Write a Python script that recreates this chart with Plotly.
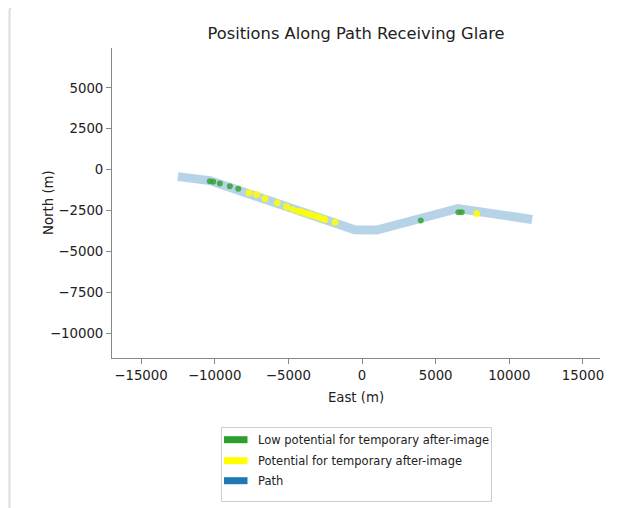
import plotly.graph_objects as go

# Path vertices (m)
path_east = [-12500, -10330, -500, 1000, 6520, 11550]
path_north = [-430, -670, -3680, -3700, -2380, -3050]

# Glare positions
green_east = [-10330, -10100, -9650, -8970, -8400, 3990, 6540, 6770]
green_north = [-713, -750, -854, -1018, -1177, -3110, -2604, -2604]

yellow_east = [-7660, -7150, -6590, -5750, -5120, -4710, -4330, -4080, -3800, -3530,
               -3260, -2990, -2720, -2510, -1830, 7790]
yellow_north = [-1421, -1524, -1768, -2030, -2274, -2439, -2543, -2591, -2665, -2744,
                -2823, -2902, -2988, -3049, -3213, -2683]

x_tickvals = [-15000, -10000, -5000, 0, 5000, 10000, 15000]
x_ticktext = ["\u221215000", "\u221210000", "\u22125000", "0", "5000", "10000", "15000"]
y_tickvals = [-10000, -7500, -5000, -2500, 0, 2500, 5000]
y_ticktext = ["\u221210000", "\u22127500", "\u22125000", "\u22122500", "0", "2500", "5000"]

legend_labels = ["Low potential for temporary after-image",
                 "Potential for temporary after-image",
                 "Path"]
legend_colors = ["#2ca02c", "#ffff00", "#1f77b4"]

x_range = [-16970, 16155]
y_range = [-11524, 7439]

FONT = "DejaVu Sans"
fig = go.Figure()

fig.add_trace(go.Scatter(x=path_east, y=path_north, mode="lines",
                         line=dict(color="rgba(31,119,180,0.32)", width=9),
                         showlegend=False, hoverinfo="skip"))
fig.add_trace(go.Scatter(x=green_east, y=green_north, mode="markers",
                         marker=dict(color="#2ca02c", size=6, opacity=0.8, line=dict(width=0)),
                         showlegend=False))
fig.add_trace(go.Scatter(x=yellow_east, y=yellow_north, mode="markers",
                         marker=dict(color="#ffff00", size=7, opacity=0.85, line=dict(width=0)),
                         showlegend=False))

# screen px -> paper coords (page has an 8px body margin)
def px(v):
    return (v - 112) / 488
def py(v):
    return (358 - v) / 310

# card border
fig.add_shape(type="path", xref="paper", yref="paper",
              path=(f"M {px(9.5)} {py(520)} L {px(9.5)} {py(12)} "
                    f"Q {px(9.5)} {py(5)} {px(16.5)} {py(5)} "
                    f"L {px(613)} {py(5)} Q {px(620)} {py(5)} {px(620)} {py(12)}"),
              line=dict(color="#dddddd", width=2))

# manual legend (matplotlib style)
fig.add_shape(type="rect", xref="paper", yref="paper",
              x0=px(221.5), x1=px(491.5), y0=py(501.5), y1=py(427.5),
              line=dict(color="#cccccc", width=1), fillcolor="white")
row_y = [439.7, 460.7, 480.7]
for lab, col, ry in zip(legend_labels, legend_colors, row_y):
    fig.add_shape(type="rect", xref="paper", yref="paper",
                  x0=px(224), x1=px(247.5), y0=py(ry + 3.5), y1=py(ry - 3.5),
                  line=dict(width=0), fillcolor=col)
    fig.add_annotation(text=lab, xref="paper", yref="paper", x=px(256), y=py(ry),
                       xanchor="left", yanchor="middle", showarrow=False,
                       font=dict(size=11.5, color="#222222", family=FONT))

# y-axis title
fig.add_annotation(text="North (m)", xref="paper", yref="paper", x=px(48), y=py(203),
                   xanchor="center", yanchor="middle", textangle=-90, showarrow=False,
                   font=dict(size=13.3, color="#222222", family=FONT))

fig.update_layout(
    width=613, height=500,
    margin=dict(l=104, r=21, t=40, b=150),
    paper_bgcolor="white", plot_bgcolor="white",
    font=dict(family=FONT, size=13, color="#222222"),
    title=dict(text="Positions Along Path Receiving Glare", x=(356 - 8) / 613, xanchor="center",
               y=1 - (33 - 8) / 500, yanchor="middle", font=dict(size=16.3, color="#222222")),
    showlegend=False,
)
fig.update_xaxes(range=x_range, tickmode="array", tickvals=x_tickvals, ticktext=x_ticktext,
                 showgrid=False, zeroline=False,
                 showline=True, linecolor="#888888", linewidth=1, ticks="outside",
                 ticklen=5, tickcolor="#888888", tickfont=dict(size=13.3),
                 title=dict(text="East (m)", standoff=10, font=dict(size=13.3)),
                 fixedrange=True)
fig.update_yaxes(range=y_range, tickmode="array", tickvals=y_tickvals, ticktext=y_ticktext,
                 showgrid=False, zeroline=False,
                 showline=True, linecolor="#888888", linewidth=1, ticks="outside",
                 ticklen=5, tickcolor="#888888", tickfont=dict(size=13.3),
                 fixedrange=True)

fig.write_html("out.html")
